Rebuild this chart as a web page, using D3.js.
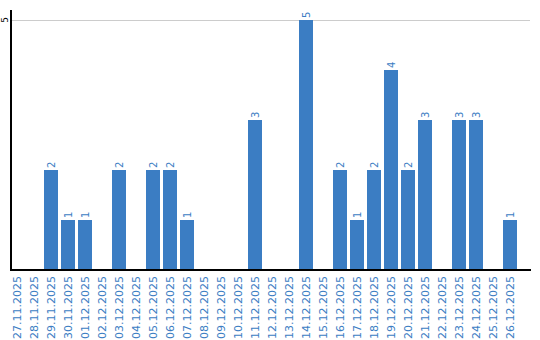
<!DOCTYPE html>
<html>
<head>
<meta charset="utf-8">
<script src="https://cdn.jsdelivr.net/npm/d3@7"></script>
<style>
html,body{margin:0;padding:0;background:#fff;}
svg{display:block;}
text{font-family:"DejaVu Sans",Verdana,sans-serif;}
</style>
</head>
<body>
<svg id="chart" width="540" height="340"></svg>
<script>
const dates = ["27.11.2025","28.11.2025","29.11.2025","30.11.2025","01.12.2025","02.12.2025","03.12.2025","04.12.2025","05.12.2025","06.12.2025","07.12.2025","08.12.2025","09.12.2025","10.12.2025","11.12.2025","12.12.2025","13.12.2025","14.12.2025","15.12.2025","16.12.2025","17.12.2025","18.12.2025","19.12.2025","20.12.2025","21.12.2025","22.12.2025","23.12.2025","24.12.2025","25.12.2025","26.12.2025"];
const counts = [0,0,2,1,1,0,2,0,2,2,1,0,0,0,3,0,0,5,0,2,1,2,4,2,3,0,3,3,0,1];
const yTicks = [5];

const blue = "#3b7dc3";
const svg = d3.select("#chart");
const x = d3.scaleBand().domain(dates).range([7, 520]).padding(3/17);
const y = d3.scaleLinear().domain([0, 5]).range([270, 20]);

// gridlines
svg.selectAll("line.grid").data(yTicks).enter().append("line")
  .attr("x1", 11).attr("x2", 530)
  .attr("y1", d => y(d)).attr("y2", d => y(d))
  .attr("stroke", "#cccccc").attr("stroke-width", 1)
  .attr("shape-rendering", "crispEdges");

// y tick labels
svg.selectAll("text.ytick").data(yTicks).enter().append("text")
  .attr("transform", d => `translate(8,${y(d)}) rotate(-90)`)
  .attr("text-anchor", "middle")
  .attr("font-size", 9)
  .attr("fill", "#000")
  .text(d => d);

const data = dates.map((d, i) => ({date: d, v: counts[i]}));

// bars
svg.selectAll("rect.bar").data(data.filter(d => d.v > 0)).enter().append("rect")
  .attr("x", d => x(d.date))
  .attr("width", x.bandwidth())
  .attr("y", d => y(d.v))
  .attr("height", d => y(0) - y(d.v))
  .attr("fill", blue)
  .attr("shape-rendering", "crispEdges");

// value labels
svg.selectAll("text.val").data(data.filter(d => d.v > 0)).enter().append("text")
  .attr("transform", d => `translate(${x(d.date) + x.bandwidth() / 2},${y(d.v) - 2}) rotate(-90)`)
  .attr("text-anchor", "start")
  .attr("dy", "0.35em")
  .attr("font-size", 10)
  .attr("fill", blue)
  .text(d => d.v);

// axes lines
svg.append("line").attr("x1", 11).attr("x2", 11).attr("y1", 10).attr("y2", 271)
  .attr("stroke", "#000").attr("stroke-width", 2).attr("shape-rendering", "crispEdges");
svg.append("line").attr("x1", 10).attr("x2", 531).attr("y1", 270).attr("y2", 270)
  .attr("stroke", "#000").attr("stroke-width", 2).attr("shape-rendering", "crispEdges");

// x labels
svg.selectAll("text.xl").data(dates).enter().append("text")
  .attr("transform", d => `translate(${x(d) + x.bandwidth() / 2},276) rotate(-90)`)
  .attr("text-anchor", "end")
  .attr("dy", "0.35em")
  .attr("font-size", 11)
  .attr("fill", blue)
  .text(d => d);
</script>
</body>
</html>
